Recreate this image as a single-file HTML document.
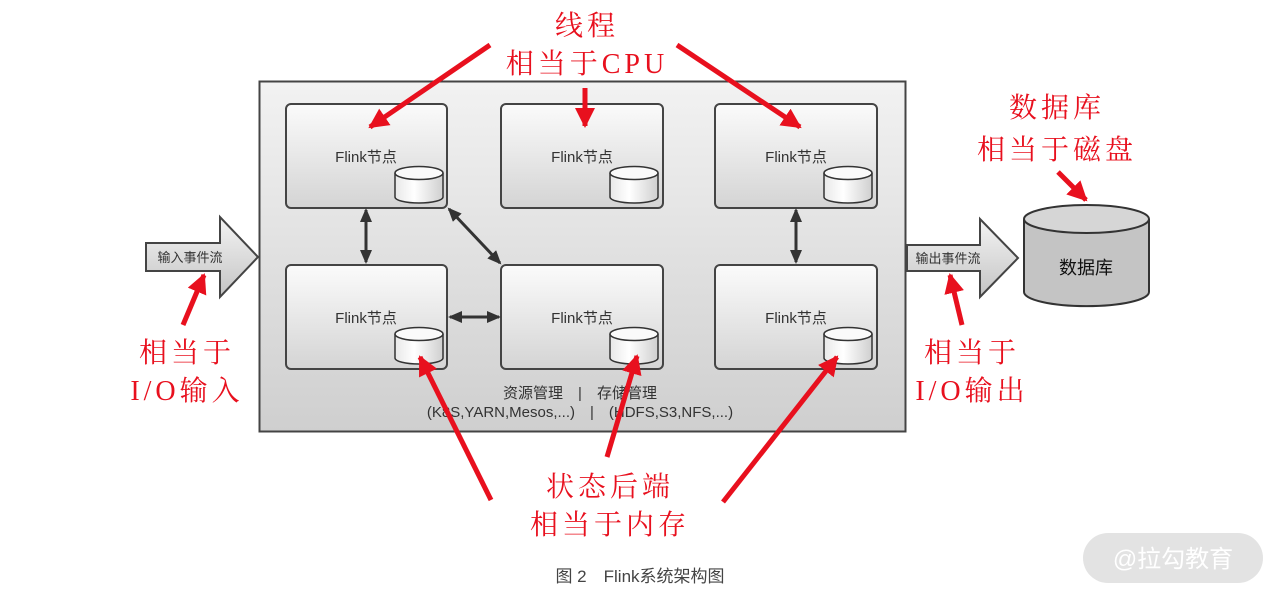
<!DOCTYPE html>
<html><head><meta charset="utf-8"><style>
html,body{margin:0;padding:0;background:#fff;width:1280px;height:601px;overflow:hidden}
svg{display:block}
.r{font-family:"Liberation Serif","Noto Serif CJK SC",serif;fill:#e8101e;font-size:28px;text-anchor:middle;letter-spacing:4px}
.n{font-family:"Liberation Sans","Noto Sans CJK SC",sans-serif;fill:#333;font-size:15px;text-anchor:middle}
</style></head><body>
<svg width="1280" height="601" viewBox="0 0 1280 601">
<defs>
<linearGradient id="bg" x1="0" y1="0" x2="0" y2="1"><stop offset="0" stop-color="#f2f2f2"/><stop offset="1" stop-color="#cfcfcf"/></linearGradient>
<linearGradient id="nd" x1="0" y1="0" x2="0" y2="1"><stop offset="0" stop-color="#fbfbfb"/><stop offset="1" stop-color="#d4d4d4"/></linearGradient>
<linearGradient id="cy" x1="0" y1="0" x2="1" y2="0"><stop offset="0" stop-color="#e8e8e8"/><stop offset="0.4" stop-color="#ffffff"/><stop offset="1" stop-color="#cfcfcf"/></linearGradient>
<linearGradient id="ar" x1="0" y1="0" x2="0" y2="1"><stop offset="0" stop-color="#f4f4f4"/><stop offset="1" stop-color="#c4c4c4"/></linearGradient>
<marker id="bk" markerWidth="14" markerHeight="12" refX="12" refY="6" orient="auto-start-reverse" markerUnits="userSpaceOnUse"><path d="M0,0 L14,6 L0,12 Z" fill="#333"/></marker>
<marker id="rd" markerWidth="22" markerHeight="20" refX="18" refY="10" orient="auto" markerUnits="userSpaceOnUse"><path d="M0,0 L20,10 L0,20 Z" fill="#e8101e"/></marker>
<g id="cyl"><path d="M0,7 v24 a24,6 0 0 0 48,0 v-24" fill="url(#cy)" stroke="#333" stroke-width="1.5"/><ellipse cx="24" cy="7" rx="24" ry="6.5" fill="#fafafa" stroke="#333" stroke-width="1.5"/></g>
</defs>
<rect x="259.5" y="81.5" width="646" height="350" fill="url(#bg)" stroke="#444" stroke-width="2"/>
<g stroke="#444" stroke-width="2" fill="url(#nd)">
<rect x="286" y="104" width="161" height="104" rx="5"/>
<rect x="501" y="104" width="162" height="104" rx="5"/>
<rect x="715" y="104" width="162" height="104" rx="5"/>
<rect x="286" y="265" width="161" height="104" rx="5"/>
<rect x="501" y="265" width="162" height="104" rx="5"/>
<rect x="715" y="265" width="162" height="104" rx="5"/>
</g>
<g class="n">
<text x="366" y="162">Flink节点</text><text x="582" y="162">Flink节点</text><text x="796" y="162">Flink节点</text>
<text x="366" y="323">Flink节点</text><text x="582" y="323">Flink节点</text><text x="796" y="323">Flink节点</text>
</g>
<use href="#cyl" x="395" y="166"/><use href="#cyl" x="610" y="166"/><use href="#cyl" x="824" y="166"/>
<use href="#cyl" x="395" y="327"/><use href="#cyl" x="610" y="327"/><use href="#cyl" x="824" y="327"/>
<g stroke="#333" stroke-width="3" marker-start="url(#bk)" marker-end="url(#bk)">
<line x1="366" y1="210" x2="366" y2="262"/>
<line x1="449" y1="209" x2="500" y2="263"/>
<line x1="450" y1="317" x2="499" y2="317"/>
<line x1="796" y1="210" x2="796" y2="262"/>
</g>
<text class="n" x="580" y="398" fill="#444">资源管理　|　存储管理</text>
<text class="n" x="580" y="417" fill="#444">(K8S,YARN,Mesos,...)　|　(HDFS,S3,NFS,...)</text>
<path d="M146,243 H220 V217 L258,257 L220,297 V271 H146 Z" fill="url(#ar)" stroke="#444" stroke-width="2"/>
<text class="n" x="190" y="262" style="font-size:13px">输入事件流</text>
<path d="M907,245 H980 V219 L1018,258 L980,297 V271 H907 Z" fill="url(#ar)" stroke="#444" stroke-width="2"/>
<text class="n" x="948" y="263" style="font-size:13px">输出事件流</text>
<path d="M1024,219 v73 a62,14 0 0 0 125,0 v-73" fill="#c4c4c4" stroke="#333" stroke-width="2"/>
<ellipse cx="1086.5" cy="219" rx="62.5" ry="14" fill="#d6d6d6" stroke="#333" stroke-width="2"/>
<text x="1086" y="274" style="font-family:'Liberation Sans','Noto Sans CJK SC',sans-serif;font-size:18px;text-anchor:middle;fill:#111">数据库</text>
<g stroke="#e8101e" stroke-width="5" marker-end="url(#rd)">
<line x1="490" y1="45" x2="370" y2="127"/>
<line x1="585" y1="88" x2="585" y2="126"/>
<line x1="677" y1="45" x2="800" y2="127"/>
<line x1="1058" y1="172" x2="1086" y2="200"/>
<line x1="183" y1="325" x2="204" y2="275"/>
<line x1="962" y1="325" x2="950" y2="275"/>
<line x1="491" y1="500" x2="420" y2="357"/>
<line x1="607" y1="457" x2="637" y2="356"/>
<line x1="723" y1="502" x2="837" y2="357"/>
</g>
<g class="r">
<text x="587" y="35">线程</text><text x="587" y="73">相当于CPU</text>
<text x="1057" y="117">数据库</text><text x="1057" y="159">相当于磁盘</text>
<text x="187" y="362">相当于</text><text x="187" y="400">I/O输入</text>
<text x="972" y="362">相当于</text><text x="972" y="400">I/O输出</text>
<text x="610" y="496">状态后端</text><text x="610" y="534">相当于内存</text>
</g>
<text x="640" y="582" style="font-family:'Liberation Sans','Noto Sans CJK SC',sans-serif;font-size:17px;text-anchor:middle;fill:#444">图 2　Flink系统架构图</text>
<rect x="1083" y="533" width="180" height="50" rx="25" fill="#e3e3e3"/>
<text x="1173" y="567" style="font-family:'Liberation Sans','Noto Sans CJK SC',sans-serif;font-size:24px;text-anchor:middle;fill:#fff">@拉勾教育</text>
</svg>
</body></html>
